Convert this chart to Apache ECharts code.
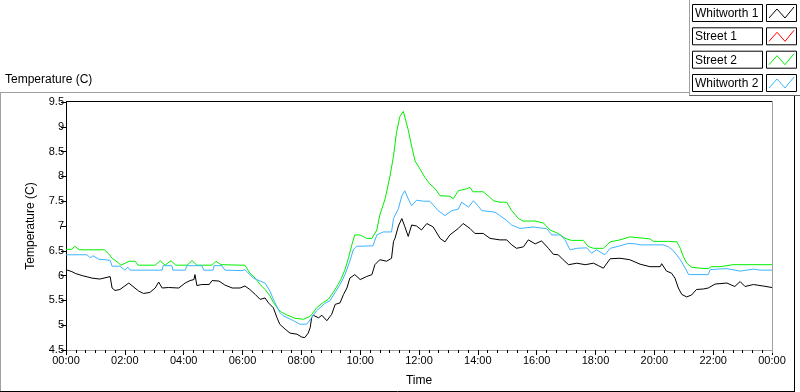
<!DOCTYPE html>
<html>
<head>
<meta charset="utf-8">
<script src="https://cdn.jsdelivr.net/npm/echarts@6/dist/echarts.min.js"></script>
<style>
html,body{margin:0;padding:0;background:#fff;}
#chart{width:800px;height:392px;}
</style>
</head>
<body>
<div id="chart"></div>
<script>
// ---- Data (time in minutes since 00:00, temperature in C) ----
const seriesNames = ["Whitworth 1", "Street 1", "Street 2", "Whitworth 2"];
const seriesColors = ["#000000", "#ff0000", "#00ee00", "#3cb4ff"];

const whitworth1Time = [0,12,20,33,53,69,73,90,94,100,110,128,148,158,171,182,189,196,209,230,243,253,261,263,267,277,292,298,312,324,339,355,365,375,386,396,406,413,423,430,436,447,457,471,481,487,494,498,501,504,515,522,532,542,549,559,566,573,579,589,600,613,624,630,640,654,664,668,671,678,685,691,698,705,715,725,736,749,763,773,783,800,810,824,834,851,865,885,899,909,919,933,943,957,970,984,994,1004,1014,1025,1042,1059,1076,1086,1096,1110,1130,1150,1171,1191,1212,1215,1225,1235,1242,1249,1256,1266,1276,1286,1300,1310,1324,1348,1364,1375,1385,1402,1422,1440];
const whitworth1Temp = [6.12,6.08,6.04,6.0,5.95,5.93,5.91,5.98,5.75,5.7,5.72,5.85,5.69,5.64,5.66,5.75,5.87,5.75,5.76,5.75,5.85,5.9,5.92,6.02,5.8,5.82,5.82,5.9,5.89,5.81,5.75,5.75,5.79,5.72,5.62,5.52,5.55,5.45,5.35,5.16,5.02,4.92,4.84,4.82,4.76,4.75,4.84,4.95,5.15,5.2,5.15,5.2,5.09,5.22,5.42,5.45,5.62,5.75,5.95,6.02,5.92,5.98,6.02,6.22,6.32,6.29,6.35,6.69,6.75,7.0,7.15,6.99,6.79,7.02,7.0,6.92,7.05,6.98,6.75,6.68,6.82,6.95,7.05,6.95,6.85,6.85,6.75,6.72,6.72,6.62,6.55,6.58,6.72,6.64,6.7,6.55,6.43,6.42,6.32,6.22,6.25,6.22,6.25,6.2,6.15,6.34,6.35,6.32,6.23,6.18,6.18,6.24,6.09,6.05,5.95,5.75,5.62,5.57,5.61,5.72,5.73,5.75,5.83,5.85,5.78,5.88,5.78,5.82,5.79,5.76];

const street1Time = [];
const street1Temp = [];

const street2Time = [0,12,18,27,78,86,94,104,112,129,141,147,182,192,202,214,224,247,257,267,298,306,316,359,365,375,386,396,406,416,423,433,440,450,467,484,494,501,511,525,535,545,555,562,569,576,583,589,600,613,624,634,640,651,661,668,674,681,688,691,698,705,712,722,732,742,753,763,783,790,800,817,824,830,851,861,872,885,899,909,923,932,957,974,987,1004,1018,1031,1055,1065,1076,1096,1110,1130,1150,1171,1191,1198,1229,1246,1253,1259,1266,1276,1293,1310,1316,1334,1348,1360,1440];
const street2Temp = [6.53,6.53,6.59,6.52,6.52,6.45,6.35,6.28,6.21,6.29,6.29,6.21,6.21,6.3,6.21,6.3,6.21,6.21,6.3,6.21,6.21,6.29,6.22,6.21,6.21,6.05,5.95,5.82,5.72,5.59,5.46,5.32,5.26,5.21,5.14,5.12,5.16,5.21,5.35,5.46,5.52,5.66,5.82,5.95,6.12,6.35,6.62,6.82,6.82,6.75,6.75,6.92,7.22,7.55,8.01,8.41,8.88,9.21,9.31,9.28,8.94,8.61,8.31,8.15,7.98,7.85,7.75,7.61,7.6,7.55,7.71,7.75,7.78,7.69,7.69,7.61,7.51,7.48,7.48,7.31,7.15,7.1,7.1,7.06,6.92,6.85,6.75,6.71,6.71,6.59,6.55,6.55,6.68,6.72,6.78,6.76,6.74,6.69,6.69,6.68,6.55,6.39,6.25,6.17,6.15,6.14,6.18,6.18,6.2,6.22,6.22];

const whitworth2Time = [0,43,49,55,67,90,94,110,120,126,131,196,198,216,218,243,247,277,281,300,302,318,324,359,365,382,396,406,416,423,436,443,464,477,491,501,511,528,538,549,559,569,579,586,593,626,634,647,664,668,678,685,691,698,705,715,729,742,753,759,773,787,800,807,821,831,841,848,875,885,899,909,926,953,967,980,991,1008,1018,1028,1042,1062,1072,1082,1099,1110,1130,1147,1150,1161,1171,1218,1229,1239,1253,1263,1270,1310,1314,1327,1348,1375,1402,1416,1440];
const whitworth2Temp = [6.42,6.42,6.36,6.4,6.33,6.31,6.19,6.19,6.11,6.17,6.11,6.11,6.2,6.2,6.11,6.11,6.2,6.2,6.11,6.11,6.2,6.2,6.11,6.1,6.12,5.95,5.89,5.85,5.69,5.52,5.26,5.19,5.09,5.02,5.02,5.15,5.29,5.44,5.49,5.66,5.82,6.02,6.29,6.52,6.59,6.6,6.82,6.88,6.88,7.15,7.35,7.61,7.71,7.55,7.41,7.52,7.5,7.5,7.38,7.31,7.21,7.31,7.34,7.48,7.38,7.51,7.4,7.31,7.28,7.21,7.11,7.02,6.95,6.98,6.96,6.95,6.82,6.82,6.72,6.52,6.55,6.56,6.45,6.52,6.42,6.55,6.6,6.65,6.69,6.64,6.62,6.62,6.58,6.5,6.32,6.15,6.02,6.02,6.12,6.13,6.14,6.09,6.13,6.11,6.11];

const xTickLabels = ["00:00","02:00","04:00","06:00","08:00","10:00","12:00","14:00","16:00","18:00","20:00","22:00","00:00"];

// ---- Build ----
function pairs(t, v) { return t.map((x, i) => [x, v[i]]); }
const seriesData = [
  pairs(whitworth1Time, whitworth1Temp),
  pairs(street1Time, street1Temp),
  pairs(street2Time, street2Temp),
  pairs(whitworth2Time, whitworth2Temp)
];

const FONT = "Liberation Sans";
const chart = echarts.init(document.getElementById('chart'), null, {renderer: 'canvas'});

const graphics = [];
// outer panel frame
function line(x1, y1, x2, y2, color) {
  graphics.push({type: 'line', silent: true, z: 100,
    shape: {x1, y1, x2, y2}, style: {stroke: color, lineWidth: 1}});
}
line(0, 92.5, 690, 92.5, '#a0a0a0');
line(0.5, 92, 0.5, 392, '#a0a0a0');
line(0, 391.5, 795, 391.5, '#000');
line(794.5, 96, 794.5, 392, '#000');
line(689.5, 0, 689.5, 96, '#a0a0a0');
line(689.5, 95.5, 800, 95.5, '#606060');
// plot area top/right borders
line(66, 101.5, 772, 101.5, '#000');
line(772.5, 101, 772.5, 353, '#a0a0a0');

// chart caption
graphics.push({type: 'text', left: 5, top: 74, z: 100,
  style: {text: 'Temperature (C)', font: '12px "' + FONT + '"', fill: '#000'}});

// legend
const rowTops = [4, 27.3, 50.7, 74];
seriesNames.forEach((name, i) => {
  const y = rowTops[i];
  graphics.push({type: 'rect', z: 100, shape: {x: 692.5, y: y + 0.5, width: 70, height: 17},
    style: {fill: '#fff', stroke: '#000', lineWidth: 1}});
  graphics.push({type: 'text', z: 101, x: 695, y: y + 9.5,
    style: {text: name, font: '12px "' + FONT + '"', fill: '#000', textVerticalAlign: 'middle'}});
  graphics.push({type: 'rect', z: 100, shape: {x: 766.5, y: y + 0.5, width: 30, height: 17},
    style: {fill: '#fff', stroke: '#000', lineWidth: 1}});
  graphics.push({type: 'polyline', z: 101,
    shape: {points: [[769, y + 14], [777, y + 5], [785, y + 14], [794, y + 3]]},
    style: {stroke: seriesColors[i], lineWidth: 1, fill: null}});
});

const option = {
  animation: false,
  backgroundColor: '#ffffff',
  grid: {left: 66, right: 28, top: 102, bottom: 39, containLabel: false},
  xAxis: {
    type: 'value', min: 0, max: 1440, interval: 120,
    name: 'Time', nameLocation: 'middle', nameGap: 25,
    nameTextStyle: {fontFamily: FONT, fontSize: 12, color: '#000'},
    axisLine: {show: true, lineStyle: {color: '#a0a0a0', width: 1}},
    axisTick: {show: true, length: 5, lineStyle: {color: '#000'}},
    minorTick: {show: true, splitNumber: 6, length: 3, lineStyle: {color: '#000'}},
    splitLine: {show: false},
    axisLabel: {margin: 5, fontFamily: FONT, fontSize: 11, color: '#000',
      formatter: v => xTickLabels[Math.round(v / 120)]}
  },
  yAxis: {
    type: 'value', min: 4.5, max: 9.5, interval: 0.5,
    name: 'Temperature (C)', nameLocation: 'middle', nameGap: 29, nameRotate: 90,
    nameTextStyle: {fontFamily: FONT, fontSize: 12, color: '#000'},
    axisLine: {show: true, lineStyle: {color: '#000', width: 1}},
    axisTick: {show: true, length: 5, lineStyle: {color: '#000'}},
    splitLine: {show: false},
    axisLabel: {margin: 2, fontFamily: FONT, fontSize: 11, color: '#000'}
  },
  series: seriesNames.map((name, i) => ({
    name, type: 'line', data: seriesData[i], showSymbol: false, symbol: 'none',
    lineStyle: {color: seriesColors[i], width: 1}, itemStyle: {color: seriesColors[i]},
    z: 2 + i, clip: true
  })),
  graphic: graphics
};
chart.setOption(option);
</script>
</body>
</html>
